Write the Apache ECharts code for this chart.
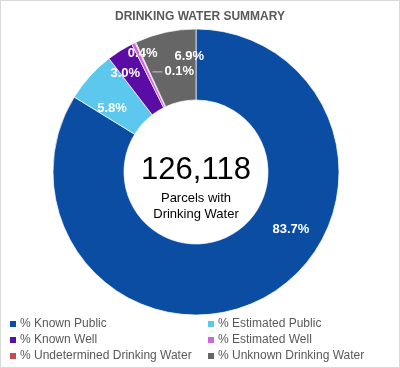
<!DOCTYPE html>
<html>
<head>
<meta charset="utf-8">
<script src="https://cdn.jsdelivr.net/npm/echarts@6/dist/echarts.min.js"></script>
<style>
html,body{margin:0;padding:0;background:#fff;}
#c{width:400px;height:368px;box-sizing:border-box;border:1px solid #d9d9d9;}
</style>
</head>
<body>
<div id="c"></div>
<script>
// ---- data ----
const titleText = 'DRINKING WATER SUMMARY';
const categories = ['% Known Public', '% Estimated Public', '% Known Well', '% Estimated Well', '% Undetermined Drinking Water', '% Unknown Drinking Water'];
const values = [83.7, 5.8, 3.0, 0.4, 0.1, 6.9];
const totalParcels = '126,118';
const centerCaption = ['Parcels with', 'Drinking Water'];

// ---- styles ----
const colors = ['#0A4DA2', '#5CC8EE', '#5B0CA4', '#CC66DD', '#C0504D', '#666666'];
const labelOffsets = [[41, -39], [-2, 10], [-12, -5], [-5, -19], [24, 0], [17, -8]];
const FONT = '"Liberation Sans", Arial, sans-serif';

const chart = echarts.init(document.getElementById('c'), null, {renderer: 'canvas'});

const seriesData = categories.map((name, i) => {
  const d = {name: name, value: values[i], itemStyle: {color: colors[i]}};
  if (i === 4) {
    // small leader line drawn as part of the label
    d.label = {
      formatter: p => '{ln|}{t|' + p.value.toFixed(1) + '%}',
      rich: {
        ln: {width: 10, height: 1, backgroundColor: '#c8c8c8', padding: 0},
        t: {color: '#fff', fontWeight: 'bold', fontSize: 13, fontFamily: FONT, padding: [0, 0, 0, 2]}
      }
    };
  }
  return d;
});

const legendBase = {
  orient: 'vertical', padding: 0, itemWidth: 8, itemHeight: 8, itemGap: 4, icon: 'rect',
  textStyle: {fontFamily: FONT, fontSize: 12, color: '#595959', lineHeight: 12, padding: [0,0,0,-2]}
};

chart.setOption({
  animation: false,
  color: colors,
  title: {
    text: titleText, left: 'center', top: 5,
    textStyle: {fontFamily: FONT, fontSize: 12, fontWeight: 'bold', color: '#595959'}
  },
  legend: [
    Object.assign({data: [categories[0], categories[2], categories[4]], left: 7, top: 317}, legendBase),
    Object.assign({data: [categories[1], categories[3], categories[5]], left: 205, top: 317}, legendBase)
  ],
  graphic: [
    {
      type: 'text', x: 195, y: 169,
      style: {text: totalParcels, fontFamily: FONT, fontSize: 31, fill: '#000', align: 'center', verticalAlign: 'middle'}
    },
    {
      type: 'text', x: 195, y: 205,
      style: {text: centerCaption.join('\n'), fontFamily: FONT, fontSize: 13, lineHeight: 16, fill: '#000', align: 'center', verticalAlign: 'middle'}
    }
  ],
  series: [{
    type: 'pie',
    center: [195, 171],
    radius: [72, 143],
    startAngle: 90,
    clockwise: true,
    avoidLabelOverlap: false,
    itemStyle: {borderColor: '#ffffff', borderWidth: 0.7},
    label: {
      show: true, position: 'inside', color: '#fff', fontWeight: 'bold', fontSize: 13, fontFamily: FONT,
      formatter: p => p.value.toFixed(1) + '%'
    },
    labelLine: {show: false},
    labelLayout: function (p) {
      const o = labelOffsets[p.dataIndex];
      return {dx: o[0], dy: o[1]};
    },
    emphasis: {disabled: true},
    data: seriesData
  }]
});
</script>
</body>
</html>
